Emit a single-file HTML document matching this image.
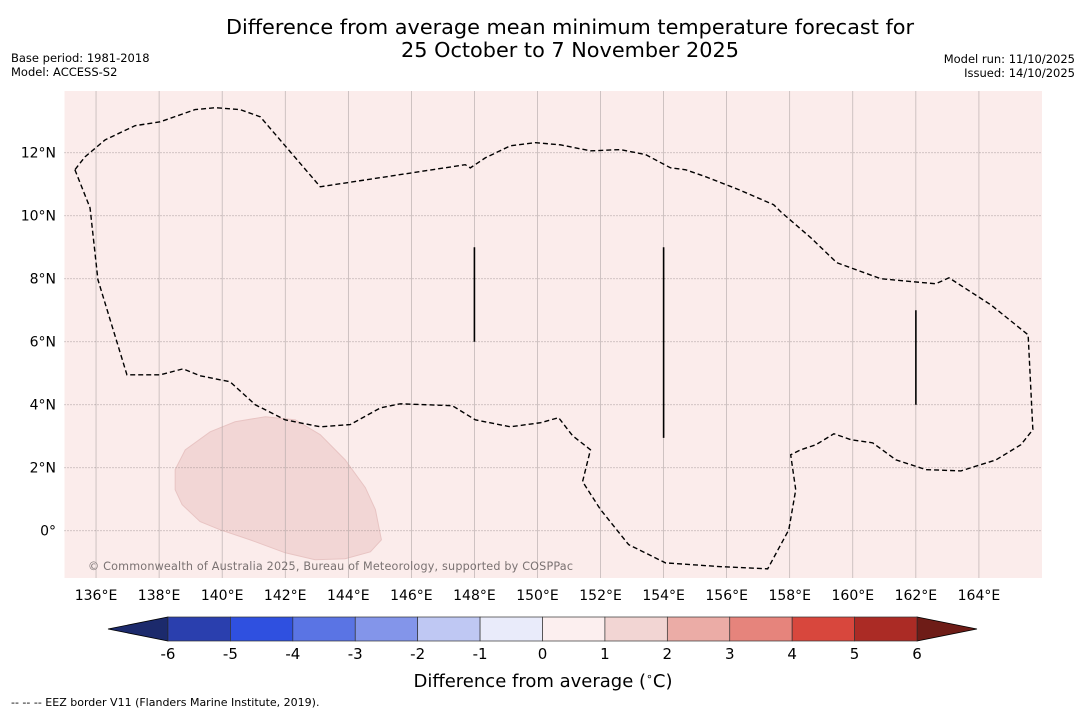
<!DOCTYPE html>
<html><head><meta charset="utf-8"><style>
body{margin:0;background:#fff;font-family:"Liberation Sans","DejaVu Sans",sans-serif}
svg{display:block}
</style></head><body>
<svg id="c" width="1085" height="713" xmlns="http://www.w3.org/2000/svg">
<text x="570" y="34" text-anchor="middle" font-size="20.8" font-family="DejaVu Sans, sans-serif">Difference from average mean minimum temperature forecast for</text>
<text x="570" y="57" text-anchor="middle" font-size="20.8" font-family="DejaVu Sans, sans-serif">25 October to 7 November 2025</text>
<text x="11" y="62" font-size="11.5" font-family="DejaVu Sans, sans-serif">Base period: 1981-2018</text>
<text x="11" y="76" font-size="11.5" font-family="DejaVu Sans, sans-serif">Model: ACCESS-S2</text>
<text x="1075" y="63" text-anchor="end" font-size="11.5" font-family="DejaVu Sans, sans-serif">Model run: 11/10/2025</text>
<text x="1075" y="77" text-anchor="end" font-size="11.5" font-family="DejaVu Sans, sans-serif">Issued: 14/10/2025</text>
<g id="map"></g>
<g id="cbar"></g>
<text x="543" y="687" text-anchor="middle" font-size="18" font-family="DejaVu Sans, sans-serif">Difference from average (<tspan font-size="11" dy="-7">∘</tspan><tspan dy="7">C)</tspan></text>
<text x="11" y="706" font-size="11" font-family="DejaVu Sans, sans-serif">--  --  -- EEZ border V11 (Flanders Marine Institute, 2019).</text>
</svg>
<script>
const lonTicks=[136,138,140,142,144,146,148,150,152,154,156,158,160,162,164];
const latTicks=[0,2,4,6,8,10,12];
const eezLon=[135.33,135.81,136.06,136.98,138.03,138.76,139.30,140.25,141.05,142.0,143.11,144.06,145.02,145.65,147.30,148.03,149.14,150.10,150.67,151.11,151.68,151.43,152.0,152.89,154.06,155.81,157.30,157.97,158.19,158.03,158.35,158.83,159.40,159.94,160.63,161.37,162.32,163.43,164.54,165.33,165.71,165.56,164.38,163.05,162.63,160.89,159.49,158.67,157.71,157.49,156.38,155.33,154.70,154.22,153.43,152.63,151.68,150.73,149.94,149.14,148.35,147.87,147.71,146.46,144.56,143.11,141.21,140.57,139.78,139.14,138.03,137.24,136.29,135.65,135.33];
const eezLat=[11.46,10.25,7.97,4.95,4.95,5.14,4.92,4.73,4.0,3.52,3.30,3.37,3.90,4.03,3.97,3.52,3.30,3.43,3.59,3.02,2.57,1.56,0.67,-0.44,-1.02,-1.14,-1.21,0.03,1.30,2.41,2.57,2.73,3.08,2.89,2.79,2.25,1.94,1.90,2.25,2.73,3.21,6.22,7.17,8.03,7.84,8.0,8.51,9.30,10.13,10.35,10.83,11.24,11.46,11.52,11.94,12.10,12.06,12.25,12.32,12.22,11.84,11.52,11.62,11.43,11.14,10.92,13.14,13.37,13.43,13.37,12.98,12.86,12.41,11.87,11.46];
const anomLon=[138.51,138.83,139.62,140.41,141.37,142.32,143.11,143.90,144.54,144.86,145.05,144.70,143.90,142.95,142.0,140.89,139.94,139.30,138.73,138.51];
const anomLat=[1.94,2.57,3.14,3.46,3.62,3.52,3.05,2.25,1.37,0.67,-0.29,-0.67,-0.89,-0.92,-0.70,-0.29,0.03,0.29,0.83,1.30];
const segLon=[148,154,162];
const segLat0=[9,9,7];
const segLat1=[6,2.95,4];
const cbLevels=[-6,-5,-4,-3,-2,-1,0,1,2,3,4,5,6];
const cbColors=["#2a3fae","#2f50e0","#5a74e4","#8395ea","#bfc8f3","#e9ebfa","#fcefef","#f2d5d3","#ebaca6","#e6847c","#d8473d","#ab2b25"];

const NS="http://www.w3.org/2000/svg";
const X0=64.5,Y0=91,W=977.5,H=487,LON0=135,LON1=166,LAT0=-1.5,LAT1=13.96;
const xs=l=>X0+(l-LON0)/(LON1-LON0)*W;
const ys=l=>Y0+(LAT1-l)/(LAT1-LAT0)*H;
function mk(t,a,p){const e=document.createElementNS(NS,t);for(const k in a)e.setAttribute(k,a[k]);p.appendChild(e);return e;}
const map=document.getElementById('map');
let bg=mk('rect',{x:X0,y:Y0,width:W,height:H,fill:'#fbeceb'},map);


let an=mk('path',{d:'M'+anomLon.map((l,i)=>xs(l)+','+ys(anomLat[i])).join('L')+'Z',fill:'#f2d6d5',stroke:'#e8c4c3','stroke-width':1},map);


lonTicks.forEach(l=>{
  let g=mk('line',{x1:xs(l),x2:xs(l),y1:Y0,y2:Y0+H,stroke:'#b0a6a6','stroke-width':0.6},map);
  
  
  let t=mk('text',{x:xs(l),y:600,'text-anchor':'middle','font-size':14,'font-family':'DejaVu Sans, sans-serif'},map);
  t.textContent=l+'°E';
  
  
});
latTicks.forEach(l=>{
  let g=mk('line',{x1:X0,x2:X0+W,y1:ys(l),y2:ys(l),stroke:'#8a8080','stroke-width':0.8,'stroke-dasharray':'1,2'},map);
  
  
  let t=mk('text',{x:56,y:ys(l)+5,'text-anchor':'end','font-size':14,'font-family':'DejaVu Sans, sans-serif'},map);
  t.textContent=l===0?'0°':l+'°N';
  
  
});
let ez=mk('path',{d:'M'+eezLon.map((l,i)=>xs(l)+','+ys(eezLat[i])).join('L'),fill:'none',stroke:'#000','stroke-width':1.4,'stroke-dasharray':'5,3'},map);


segLon.forEach((l,i)=>{
  let s=mk('line',{x1:xs(l),x2:xs(l),y1:ys(segLat0[i]),y2:ys(segLat1[i]),stroke:'#000','stroke-width':1.6},map);
  
  
});
let cp=mk('text',{x:88,y:570,'font-size':11.2,fill:'#7a7272','font-family':'DejaVu Sans, sans-serif',textLength:485},map);
cp.textContent='© Commonwealth of Australia 2025, Bureau of Meteorology, supported by COSPPac';



const cb=document.getElementById('cbar');
const CX0=168,CX1=917,CY=617,CH=24;
const cx=v=>CX0+(v+6)/12*(CX1-CX0);
let tl=mk('polygon',{points:`108,${CY+CH/2} ${CX0},${CY} ${CX0},${CY+CH}`,fill:'#1c2a6c',stroke:'#000','stroke-width':0.8},cb);


let tr=mk('polygon',{points:`977,${CY+CH/2} ${CX1},${CY} ${CX1},${CY+CH}`,fill:'#6e1c17',stroke:'#000','stroke-width':0.8},cb);


cbColors.forEach((c,i)=>{
  let r=mk('rect',{x:cx(cbLevels[i]),y:CY,width:cx(cbLevels[i+1])-cx(cbLevels[i]),height:CH,fill:c,stroke:'#333','stroke-width':0.7},cb);
  
  
});
cbLevels.forEach(v=>{
  let t=mk('text',{x:cx(v),y:659,'text-anchor':'middle','font-size':15,'font-family':'DejaVu Sans, sans-serif'},cb);
  t.textContent=v;
  
  
});
</script>
</body></html>
